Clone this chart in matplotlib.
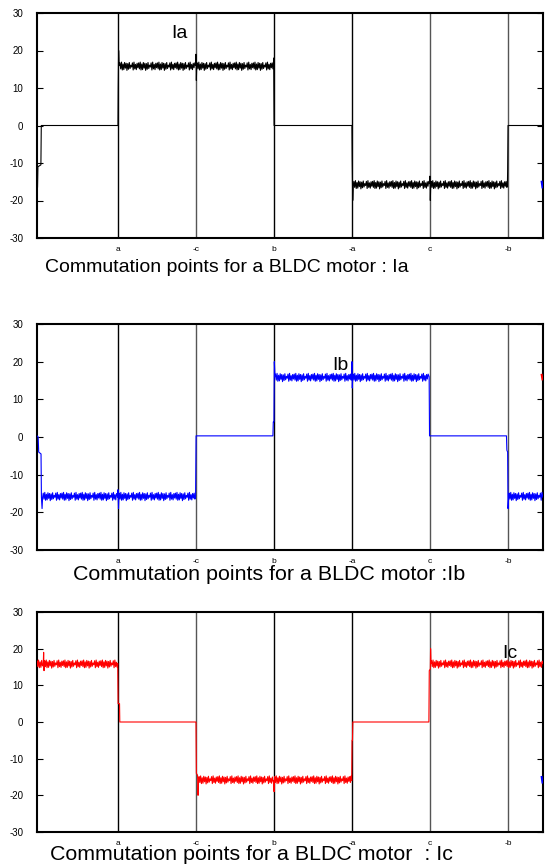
import matplotlib
matplotlib.use("Agg")
import matplotlib.pyplot as plt
import numpy as np

plt.rcParams['font.family'] = ['Liberation Sans', 'DejaVu Sans']

# ---------------- data ----------------
commutation_labels = ['a', '-c', 'b', '-a', 'c', '-b']
commutation_angles = [60, 120, 180, 240, 300, 360]
line_colors = ['black', '#555555', 'black', 'black', '#555555', '#555555']
yticks = [-30, -20, -10, 0, 10, 20, 30]

# hand-read ripple offsets seen on the conducting plateaus
ripple = [0.9, -0.7, 1.1, -1.0, 0.6, -0.9, 1.0, -0.5, 0.8, -1.1, 0.7, -0.8,
          1.0, -0.6, 0.3, -0.2, 0.9, -1.0, 1.1, -0.7, 0.5, -0.9, 0.8, -0.4]

# Ia: step key points (angle, current) and rippled plateaus (start, end, level)
ia_pts = [(-2.3, -16), (-1.9, -16.5), (-1.6, -11), (0.7, -10.5), (1.0, 0), (60, 0),
          (60.2, 10), (60.5, 20), (60.9, 16),
          (119.8, 16), (120.0, 19), (120.3, 12), (120.6, 16),
          (179.6, 16.5), (179.8, 18), (180.1, 0), (240, 0), (240.2, -9), (240.6, -20), (241, -16),
          (299.8, -15.5), (300, -13.5), (300.3, -20), (300.6, -16),
          (359.6, -16), (359.8, -12), (360.1, 0), (387, 0)]
ia_flat = [(61.5, 119.5, 15.8), (121, 179.4, 15.8), (241.5, 299.6, -15.8), (301, 359.4, -15.8)]
ia_tail = [(386.0, -15.0), (386.6, -16.5)]

ib_pts = [(-2.3, 0.3), (-1.4, 0), (-1.0, -4), (0.8, -4.5), (1.1, -16), (1.6, -19), (2.0, -16),
          (59.8, -16), (60.0, -14), (60.4, -19), (60.7, -16),
          (119.7, -16), (120.1, 0.3), (179.2, 0.3), (179.5, 4), (180.0, 4), (180.3, 20), (180.8, 16),
          (239.7, 16), (240, 20), (240.3, 13), (240.6, 16),
          (299.4, 16), (299.7, 0.3), (358.9, 0.3), (359.2, -3.5), (359.8, -4), (360.1, -19),
          (360.6, -16), (387, -16)]
ib_flat = [(2.5, 59.5, -15.8), (61, 119.5, -15.8), (181.2, 239.5, 15.8), (241, 299.2, 15.8),
           (361, 386.5, -15.8)]
ib_tail = [(386.0, 16.5), (386.6, 15.3)]

ic_pts = [(-2.3, 16), (2.5, 15.5), (2.8, 19), (3.1, 14), (3.4, 16),
          (59.8, 16), (60.1, 5), (61.2, 5), (61.4, 0), (120, 0), (120.3, -14), (121.2, -14.5),
          (121.6, -20), (122, -16),
          (179.8, -16), (180.1, -19), (180.4, -16),
          (239.8, -16), (240.1, -5), (240.4, -5), (240.7, 0), (299.2, 0), (299.5, 14),
          (300.3, 14.5), (300.5, 20), (300.9, 16), (387, 16)]
ic_flat = [(-2.3, 2.3, 15.8), (3.6, 59.6, 15.8), (122.4, 179.6, -15.8), (180.6, 239.6, -15.8),
           (301.2, 386.8, 15.8)]
ic_tail = [(386.0, -15.0), (386.6, -16.5)]

phases = [
    dict(pts=ia_pts, flat=ia_flat, tail=ia_tail, color='black', tail_color='blue',
         name='Ia', name_xy=(107, 24.5),
         caption='Commutation points for a BLDC motor : Ia', cap_size=14),
    dict(pts=ib_pts, flat=ib_flat, tail=ib_tail, color='blue', tail_color='red',
         name='Ib', name_xy=(231, 19),
         caption='Commutation points for a BLDC motor :Ib', cap_size=15.4),
    dict(pts=ic_pts, flat=ic_flat, tail=ic_tail, color='red', tail_color='blue',
         name='Ic', name_xy=(361.5, 18.8),
         caption='Commutation points for a BLDC motor  : Ic', cap_size=15.4),
]

# ---------------- layout ----------------
W, H = 546, 868
fig = plt.figure(figsize=(W / 100, H / 100), dpi=100)
panels = [(37, 13, 543, 238), (37, 324, 543, 550), (37, 612, 543, 832)]
caption_pos = [(45, 268), (73, 575), (50, 854)]


def build_curve(pts, flat):
    xs = [p[0] for p in pts]
    ys = [p[1] for p in pts]
    step = 0.6
    for (x0, x1, lev) in flat:
        x = x0
        k = 0
        while x < x1:
            xs.append(x)
            ys.append(lev + ripple[k % len(ripple)])
            x += step
            k += 1
    order = np.argsort(xs, kind='stable')
    return np.asarray(xs)[order], np.asarray(ys)[order]


for i, ph in enumerate(phases):
    l, t, r, b = panels[i]
    ax = fig.add_axes([l / W, 1 - b / H, (r - l) / W, (b - t) / H])
    ax.set_xlim(-2.3, 387)
    ax.set_ylim(-30, 30)
    for ang, c in zip(commutation_angles, line_colors):
        ax.axvline(ang, color=c, lw=1.0, zorder=1)
    x, y = build_curve(ph['pts'], ph['flat'])
    ax.plot(x, y, color=ph['color'], lw=0.8, zorder=3)
    tx = [p[0] for p in ph['tail']]
    ty = [p[1] for p in ph['tail']]
    ax.plot(tx, ty, color=ph['tail_color'], lw=1.5, zorder=3)
    ax.text(ph['name_xy'][0], ph['name_xy'][1], ph['name'], fontsize=14,
            ha='center', va='center', zorder=4)
    ax.set_yticks(yticks)
    ax.set_yticklabels([str(v) for v in yticks], fontsize=7)
    ax.set_xticks(commutation_angles)
    ax.set_xticklabels(commutation_labels, fontsize=6)
    ax.tick_params(axis='x', length=0, pad=6)
    ax.tick_params(axis='y', direction='in', length=4, width=0.8, pad=10,
                   left=True, right=True)
    for s in ax.spines.values():
        s.set_linewidth(1.5)
    cx, cy = caption_pos[i]
    fig.text(cx / W, 1 - cy / H, ph['caption'], fontsize=ph['cap_size'],
             ha='left', va='center')

fig.savefig('out.png', dpi=100)
